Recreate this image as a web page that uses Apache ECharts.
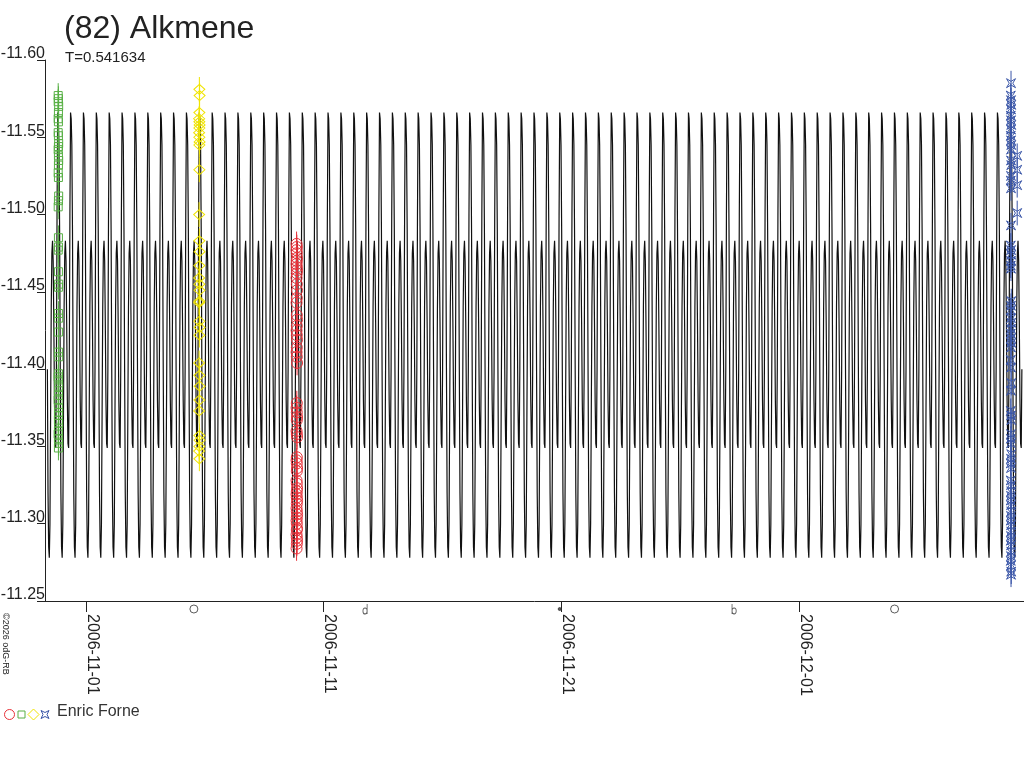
<!DOCTYPE html>
<html><head><meta charset="utf-8">
<script src="https://cdn.jsdelivr.net/npm/echarts@6/dist/echarts.min.js"></script>
<style>html,body{margin:0;padding:0;background:#fff}#c{width:1024px;height:768px}</style>
</head><body><div id="c"></div>
<script>
// ---------- data ----------
const chartTitle = '(82) Alkmene';
const periodLabel = 'T=0.541634';
const observer = 'Enric Forne';
const copyright = '\u00a92026 odG-RB';

const period = 0.541634;            // days
const epoch = 54039.35;             // MJD of a primary maximum
// one cycle of the fitted light curve (mag)
const cycleProfile = [-11.566,-11.562,-11.545,-11.490,-11.400,-11.320,-11.285,-11.278,-11.300,-11.370,
                      -11.440,-11.475,-11.483,-11.470,-11.430,-11.380,-11.352,-11.349,-11.400,-11.500];
const curveStart = 54038.36, curveEnd = 54079.38;

const xMin = 54038.275, xMax = 54079.466;
const xTicks = [54040, 54050, 54060, 54070];
const xTickLabels = ['2006-11-01','2006-11-11','2006-11-21','2006-12-01'];
const yTicks = [-11.60,-11.55,-11.50,-11.45,-11.40,-11.35,-11.30,-11.25];

const moonDates = [54044.54, 54051.74, 54059.93, 54067.27, 54074.02];
const moonKinds = ['full','last','new','first','full'];

const greenObs = [
[54038.83,-11.577],[54038.84,-11.575],[54038.83,-11.573],[54038.85,-11.570],[54038.84,-11.566],[54038.83,-11.562],
[54038.84,-11.560],[54038.83,-11.553],[54038.84,-11.551],[54038.85,-11.546],[54038.84,-11.544],[54038.83,-11.542],
[54038.84,-11.538],[54038.85,-11.535],[54038.84,-11.532],[54038.83,-11.527],[54038.84,-11.524],[54038.85,-11.512],
[54038.84,-11.509],[54038.83,-11.505],[54038.84,-11.485],[54038.84,-11.479],[54038.83,-11.477],[54038.84,-11.463],
[54038.85,-11.455],[54038.84,-11.453],[54038.84,-11.436],[54038.85,-11.433],[54038.84,-11.424],[54038.84,-11.411],
[54038.85,-11.408],[54038.84,-11.397],[54038.83,-11.395],[54038.84,-11.393],[54038.85,-11.389],[54038.84,-11.386],
[54038.84,-11.383],[54038.83,-11.380],[54038.84,-11.375],[54038.85,-11.372],[54038.84,-11.370],[54038.84,-11.367],
[54038.85,-11.365],[54038.84,-11.360],[54038.83,-11.358],[54038.84,-11.355],[54038.85,-11.352],[54038.84,-11.349]];

const yellowObs = [
[54044.77,-11.581],[54044.78,-11.577],[54044.77,-11.566],[54044.76,-11.562],[54044.77,-11.560],[54044.78,-11.558],
[54044.77,-11.556],[54044.76,-11.553],[54044.77,-11.550],[54044.78,-11.547],[54044.77,-11.545],[54044.77,-11.529],
[54044.76,-11.500],[54044.77,-11.483],[54044.78,-11.476],[54044.77,-11.467],[54044.76,-11.459],[54044.77,-11.455],
[54044.78,-11.451],[54044.77,-11.444],[54044.76,-11.443],[54044.77,-11.431],[54044.78,-11.427],[54044.77,-11.422],
[54044.76,-11.404],[54044.77,-11.396],[54044.78,-11.389],[54044.77,-11.380],[54044.76,-11.373],[54044.77,-11.357],
[54044.78,-11.354],[54044.77,-11.350],[54044.76,-11.347],[54044.77,-11.342]];

const redObs = [
[54048.86,-11.481],[54048.87,-11.479],[54048.86,-11.477],[54048.87,-11.475],[54048.88,-11.472],[54048.87,-11.470],
[54048.86,-11.468],[54048.87,-11.466],[54048.88,-11.464],[54048.87,-11.462],[54048.86,-11.459],[54048.87,-11.455],
[54048.88,-11.451],[54048.87,-11.446],[54048.86,-11.443],[54048.87,-11.435],[54048.88,-11.432],[54048.87,-11.428],
[54048.86,-11.425],[54048.87,-11.422],[54048.88,-11.419],[54048.87,-11.414],[54048.86,-11.411],[54048.87,-11.408],
[54048.88,-11.404],[54048.87,-11.378],[54048.86,-11.375],[54048.87,-11.372],[54048.88,-11.369],[54048.87,-11.367],
[54048.86,-11.360],[54048.87,-11.358],[54048.88,-11.356],[54048.87,-11.343],[54048.86,-11.341],[54048.87,-11.339],
[54048.88,-11.336],[54048.87,-11.334],[54048.86,-11.328],[54048.87,-11.326],[54048.88,-11.323],[54048.87,-11.321],
[54048.86,-11.319],[54048.87,-11.317],[54048.88,-11.315],[54048.87,-11.313],[54048.86,-11.310],[54048.87,-11.308],
[54048.88,-11.306],[54048.87,-11.304],[54048.86,-11.302],[54048.87,-11.300],[54048.88,-11.297],[54048.87,-11.296],
[54048.86,-11.293],[54048.87,-11.291],[54048.88,-11.289],[54048.87,-11.287],[54048.86,-11.284]];

const blueObs = [
[54078.92,-11.585],[54078.91,-11.577],[54078.92,-11.574],[54078.93,-11.571],[54078.92,-11.568],[54078.91,-11.564],
[54078.92,-11.561],[54078.93,-11.558],[54078.92,-11.555],[54078.91,-11.551],[54078.92,-11.548],[54078.93,-11.545],
[54078.92,-11.542],[54079.18,-11.538],[54078.92,-11.535],[54078.93,-11.532],[54079.18,-11.529],[54078.92,-11.525],
[54078.91,-11.522],[54079.18,-11.519],[54078.92,-11.517],[54079.18,-11.501],[54078.92,-11.493],[54078.91,-11.480],
[54078.92,-11.477],[54078.93,-11.474],[54078.92,-11.470],[54078.91,-11.467],[54078.92,-11.465],[54078.93,-11.444],
[54078.92,-11.441],[54078.91,-11.438],[54078.92,-11.433],[54078.93,-11.430],[54078.92,-11.426],[54078.91,-11.423],
[54078.92,-11.420],[54078.93,-11.417],[54078.92,-11.414],[54078.91,-11.406],[54078.92,-11.401],[54078.93,-11.391],
[54078.92,-11.386],[54078.91,-11.373],[54078.92,-11.370],[54078.93,-11.367],[54078.92,-11.358],[54078.91,-11.355],
[54078.92,-11.352],[54078.93,-11.345],[54078.92,-11.342],[54078.91,-11.339],[54078.92,-11.336],[54078.91,-11.328],
[54078.92,-11.325],[54078.93,-11.321],[54078.92,-11.318],[54078.91,-11.315],[54078.92,-11.312],[54078.93,-11.308],
[54078.92,-11.305],[54078.91,-11.302],[54078.92,-11.299],[54078.93,-11.295],[54078.92,-11.292],[54078.91,-11.289],
[54078.92,-11.286],[54078.93,-11.282],[54078.92,-11.279],[54078.91,-11.276],[54078.92,-11.273],[54078.93,-11.269],
[54078.92,-11.267]];

// ---------- build ----------
const FONT = '"Liberation Sans", Arial, Helvetica, sans-serif';
const n = cycleProfile.length;
const step = period / n;
const curve = [];
const kStart = Math.ceil((curveStart - epoch) / step);
const kEnd = Math.floor((curveEnd - epoch) / step);
for (let k = kStart; k <= kEnd; k++) {
  curve.push([epoch + k * step, cycleProfile[((k % n) + n) % n]]);
}

function pad(v){return v<10?'0'+v:''+v;}
function mjdToDate(m){
  const d = new Date((m - 40587) * 86400000);
  return d.getUTCFullYear()+'-'+pad(d.getUTCMonth()+1)+'-'+pad(d.getUTCDate());
}

const COL = {red:'#e8323a', green:'#58b045', yellow:'#f0e400', blue:'#3a56a8'};
const starPath = 'path://M0,0L5,3L10,0L7,5L10,10L5,7L0,10L3,5Z';
const moonSymbols = {
  full: {symbol:'circle', size:[8,8], fill:'none'},
  new: {symbol:'circle', size:[3,3], fill:'#333'},
  last: {symbol:'path://M8,0L8,10M8,7A3,3,0,1,1,8,6.99', size:[7,10], fill:'none'},
  first: {symbol:'path://M1,0L1,10M1,7A3,3,0,1,0,1,6.99', size:[7,10], fill:'none'}
};

function errBars(data, color, err){
  return {
    type:'custom', data:data, encode:{x:0,y:1}, z:3, silent:true, clip:false,
    renderItem:function(params, api){
      const t = api.value(0), m = api.value(1);
      const p1 = api.coord([t, m - err]), p2 = api.coord([t, m + err]);
      return {type:'line', shape:{x1:p1[0],y1:p1[1],x2:p2[0],y2:p2[1]}, style:{stroke:color, lineWidth:1}};
    }
  };
}
function obs(data, color, symbol, size){
  return {type:'scatter', data:data, symbol:symbol, symbolSize:size, z:4, silent:true,
    itemStyle:{color:'none', borderColor:color, borderWidth:1, opacity:1}};
}

const chart = echarts.init(document.getElementById('c'), null, {renderer:'canvas'});
chart.setOption({
  animation:false,
  backgroundColor:'#ffffff',
  grid:{left:45, right:0, top:60, bottom:167, containLabel:false, outerBoundsMode:'none'},
  xAxis:{
    type:'value', min:xMin, max:xMax,
    axisLine:{show:true, onZero:false, lineStyle:{color:'#222', width:1}},
    axisTick:{show:true, length:11, customValues:xTicks, lineStyle:{color:'#222'}},
    axisLabel:{show:true, customValues:xTicks, rotate:-90, margin:13, fontSize:16, fontFamily:FONT,
      color:'#222', verticalAlign:'bottom', lineHeight:12,
      formatter:function(v){const i=xTicks.indexOf(v); return i>=0?xTickLabels[i]:mjdToDate(v);}},
    splitLine:{show:false}
  },
  yAxis:{
    type:'value', min:yTicks[0], max:yTicks[yTicks.length-1], interval:0.05, inverse:true,
    axisLine:{show:true, onZero:false, lineStyle:{color:'#222', width:1}},
    axisTick:{show:true, length:8, lineStyle:{color:'#222'}},
    axisLabel:{show:true, margin:0, fontSize:16, fontFamily:FONT, color:'#222',
      verticalAlign:'bottom', lineHeight:12, formatter:function(v){return v.toFixed(2);}},
    splitLine:{show:false}
  },
  series:[
    {type:'line', data:curve, showSymbol:false, smooth:false, sampling:null, z:2, silent:true,
      lineStyle:{color:'#111', width:1.2}},
    errBars(greenObs, COL.green, 0.008),
    errBars(yellowObs, COL.yellow, 0.008),
    errBars(redObs, COL.red, 0.008),
    errBars(blueObs, COL.blue, 0.008),
    obs(greenObs, COL.green, 'rect', 8),
    obs(yellowObs, COL.yellow, 'diamond', [11,10]),
    obs(redObs, COL.red, 'circle', 11),
    obs(blueObs, COL.blue, starPath, 9),
    {type:'scatter', clip:false, silent:true, z:5,
      data: moonDates.map(function(t,i){
        const s = moonSymbols[moonKinds[i]];
        return {value:[t, yTicks[yTicks.length-1]], symbol:s.symbol, symbolSize:s.size,
          itemStyle:{color:s.fill, borderColor:'#333', borderWidth:1}};
      }),
      symbolOffset:[0,8], symbolKeepAspect:true}
  ],
  graphic:[
    {type:'text', left:64, top:13, style:{text:chartTitle, font:'32px '+FONT, fill:'#222'}},
    {type:'text', left:65, top:50, style:{text:periodLabel, font:'15px '+FONT, fill:'#222'}},
    {type:'text', x:1, y:613, rotation:-Math.PI/2,
      style:{text:copyright, font:'9px '+FONT, fill:'#222', textAlign:'left', textVerticalAlign:'bottom', verticalAlign:'bottom'}},
    {type:'circle', shape:{cx:9.5, cy:714.5, r:5}, style:{fill:'none', stroke:COL.red, lineWidth:1}},
    {type:'rect', shape:{x:18, y:711, width:7, height:7}, style:{fill:'none', stroke:COL.green, lineWidth:1}},
    {type:'polygon', shape:{points:[[33.5,709],[39,714.5],[33.5,720],[28,714.5]]}, style:{fill:'none', stroke:COL.yellow, lineWidth:1}},
    {type:'polygon', shape:{points:[[41,710.5],[45,712.5],[49,710.5],[47,714.5],[49,718.5],[45,716.5],[41,718.5],[43,714.5]]},
      style:{fill:'none', stroke:COL.blue, lineWidth:1}},
    {type:'text', left:57, top:704, style:{text:observer, font:'16px '+FONT, fill:'#333'}}
  ]
});
</script>
</body></html>
